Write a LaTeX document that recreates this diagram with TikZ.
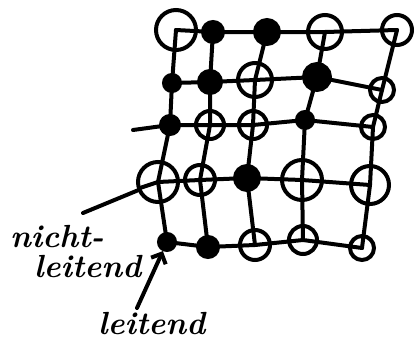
\documentclass[tikz,border=0pt]{standalone}
\usetikzlibrary{arrows.meta}
\begin{document}
\begin{tikzpicture}[x=1pt,y=-1pt,
  grid/.style={line width=4pt,line cap=round,line join=round},
  op/.style={circle,draw,line width=4pt,inner sep=0pt},
  fl/.style={circle,draw,fill=black,line width=4pt,inner sep=0pt},
  lbl/.style={font=\bfseries\itshape\fontsize{32}{30}\selectfont,inner sep=0pt,align=left}]
\useasboundingbox (0,0) rectangle (418,364);
% row 1
\node[op,minimum size=40pt] (c11) at (176,30) {};
\node[fl,minimum size=20pt] (c12) at (213,32) {};
\node[fl,minimum size=24pt] (c13) at (267,32) {};
\node[op,minimum size=34pt] (c14) at (325,32) {};
\node[op,minimum size=30pt] (c15) at (397,30) {};
% row 2
\node[fl,minimum size=16pt] (c21) at (172,83) {};
\node[fl,minimum size=22pt] (c22) at (210,82) {};
\node[op,minimum size=34pt] (c23) at (255,80) {};
\node[fl,minimum size=26pt] (c24) at (317,77) {};
\node[op,minimum size=24pt] (c25) at (382,90) {};
% row 3
\node[fl,minimum size=18pt] (c31) at (170,125) {};
\node[op,minimum size=28pt] (c32) at (210,125) {};
\node[op,minimum size=28pt] (c33) at (253,125) {};
\node[fl,minimum size=16pt] (c34) at (305,120) {};
\node[op,minimum size=24pt] (c35) at (373,127) {};
% row 4
\node[op,minimum size=40pt] (c41) at (158,182) {};
\node[op,minimum size=30pt] (c42) at (200,180) {};
\node[fl,minimum size=24pt] (c43) at (247,178) {};
\node[op,minimum size=40pt] (c44) at (302,180) {};
\node[op,minimum size=38pt] (c45) at (370,185) {};
% row 5
\node[fl,minimum size=16pt] (c51) at (167,242) {};
\node[fl,minimum size=20pt] (c52) at (208,247) {};
\node[op,minimum size=30pt] (c53) at (255,245) {};
\node[op,minimum size=28pt] (c54) at (303,240) {};
\node[op,minimum size=24pt] (c55) at (362,248) {};
\coordinate (l3) at (133,130);
\coordinate (l4) at (140,188);
% horizontal lines
\draw[grid] (c11.center) -- (c12.center) -- (c13.center) -- (c14.center) -- (c15.center);
\draw[grid] (c21.center) -- (c22.center) -- (c23.center) -- (c24.center) -- (c25.center);
\draw[grid] (l3) -- (c31.center) -- (c32.center) -- (c33.center) -- (c34.center) -- (c35.center);
\draw[grid] (l4) -- (c41.center) -- (c42.center) -- (c43.center) -- (c44.center) -- (c45.center);
\draw[grid] (c51.center) -- (c52.center) -- (c53.center) -- (c54.center) -- (c55.center);
% vertical lines
\draw[grid] (c11.center) -- (c21.center) -- (c31.center) -- (c41.center) -- (c51.center);
\draw[grid] (c12.center) -- (c22.center) -- (c32.center) -- (c42.center) -- (c52.center);
\draw[grid] (c13.center) -- (c23.center) -- (c33.center) -- (c43.center) -- (c53.center);
\draw[grid] (c14.center) -- (c24.center) -- (c34.center) -- (c44.center) -- (c54.center);
\draw[grid] (c15.center) -- (c25.center) -- (c35.center) -- (c45.center) -- (c55.center);
% labels
\node[lbl,anchor=north west] (nl) at (10,225) {nicht-\\\hspace*{24pt}leitend};
\node[lbl,anchor=north west] (le) at (98,312) {leitend};
\coordinate (a1) at (83,213);
\coordinate (a2) at (137,308);
\draw[grid] (a1) -- (c41);
\draw[grid,-{Straight Barb[length=8pt]}] (a2) -- (c51);
\end{tikzpicture}
\end{document}
